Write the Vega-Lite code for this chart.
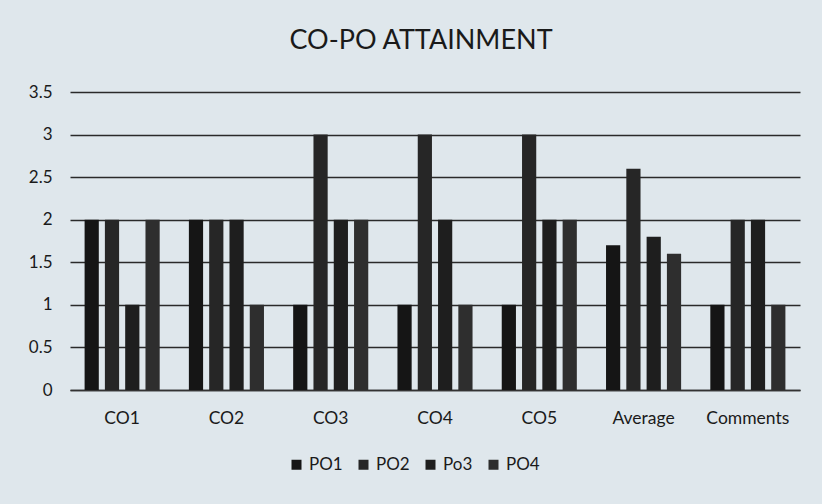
{
  "$schema": "https://vega.github.io/schema/vega-lite/v6.json",
  "width": 730,
  "height": 298,
  "autosize": "none",
  "padding": {"left": 70, "right": 22, "top": 92, "bottom": 114},
  "background": "#dfe7ec",
  "title": {"text": "CO-PO ATTAINMENT", "fontSize": 27, "font": "Lato", "fontWeight": "normal", "color": "#1a1a1a", "offset": 28, "dx": -14},
  "data": {"values": [
    {"co": "CO1", "po": "PO1", "v": 2}, {"co": "CO1", "po": "PO2", "v": 2}, {"co": "CO1", "po": "Po3", "v": 1}, {"co": "CO1", "po": "PO4", "v": 2},
    {"co": "CO2", "po": "PO1", "v": 2}, {"co": "CO2", "po": "PO2", "v": 2}, {"co": "CO2", "po": "Po3", "v": 2}, {"co": "CO2", "po": "PO4", "v": 1},
    {"co": "CO3", "po": "PO1", "v": 1}, {"co": "CO3", "po": "PO2", "v": 3}, {"co": "CO3", "po": "Po3", "v": 2}, {"co": "CO3", "po": "PO4", "v": 2},
    {"co": "CO4", "po": "PO1", "v": 1}, {"co": "CO4", "po": "PO2", "v": 3}, {"co": "CO4", "po": "Po3", "v": 2}, {"co": "CO4", "po": "PO4", "v": 1},
    {"co": "CO5", "po": "PO1", "v": 1}, {"co": "CO5", "po": "PO2", "v": 3}, {"co": "CO5", "po": "Po3", "v": 2}, {"co": "CO5", "po": "PO4", "v": 2},
    {"co": "Average", "po": "PO1", "v": 1.7}, {"co": "Average", "po": "PO2", "v": 2.6}, {"co": "Average", "po": "Po3", "v": 1.8}, {"co": "Average", "po": "PO4", "v": 1.6},
    {"co": "Comments", "po": "PO1", "v": 1}, {"co": "Comments", "po": "PO2", "v": 2}, {"co": "Comments", "po": "Po3", "v": 2}, {"co": "Comments", "po": "PO4", "v": 1}
  ]},
  "mark": {"type": "bar"},
  "encoding": {
    "x": {"field": "co", "type": "nominal", "sort": null, "title": null,
      "scale": {"paddingInner": 0.28, "paddingOuter": 0.14},
      "axis": {"labelAngle": 0, "labelFontSize": 17.5, "labelFont": "Lato", "labelColor": "#1a1a1a", "ticks": false, "domainColor": "#333", "domainWidth": 1.5, "labelPadding": 19}},
    "xOffset": {"field": "po", "type": "nominal", "sort": ["PO1", "PO2", "Po3", "PO4"], "scale": {"paddingInner": 0.3}},
    "y": {"field": "v", "type": "quantitative", "title": null,
      "scale": {"domain": [0, 3.5]},
      "axis": {"values": [0, 0.5, 1, 1.5, 2, 2.5, 3, 3.5], "format": "~g", "labelFontSize": 17, "labelFont": "Lato", "labelColor": "#1a1a1a", "domain": false, "ticks": false, "gridColor": "#2a2a2a", "gridWidth": 1.5, "labelPadding": 18}},
    "color": {"field": "po", "type": "nominal", "sort": ["PO1", "PO2", "Po3", "PO4"], "title": null,
      "scale": {"domain": ["PO1", "PO2", "Po3", "PO4"], "range": ["#151515", "#262626", "#1e1e1e", "#2e2e2e"]},
      "legend": {"orient": "none", "legendX": 218, "legendY": 364, "direction": "horizontal", "symbolType": "square", "symbolSize": 100, "labelFontSize": 17, "labelFont": "Lato", "labelColor": "#1a1a1a", "columnPadding": 12, "labelOffset": 4}}
  },
  "config": {"view": {"stroke": null}}
}
